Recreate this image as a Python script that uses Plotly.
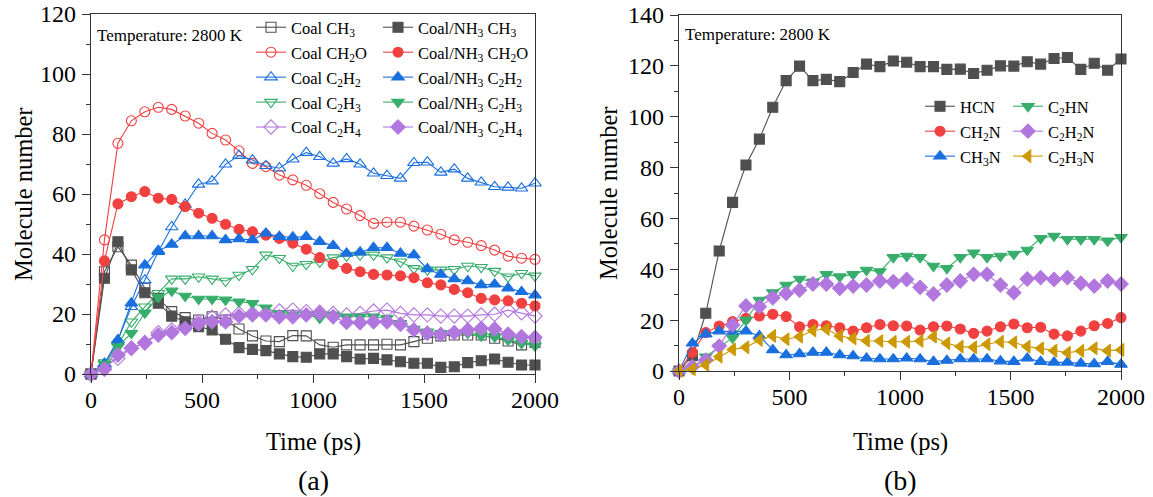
import plotly.graph_objects as go

# ---------------- data ----------------
time = [0, 60.6, 121.2, 181.8, 242.4, 303.0, 363.6, 424.2, 484.8, 545.5, 606.1, 666.7,
        727.3, 787.9, 848.5, 909.1, 969.7, 1030.3, 1090.9, 1151.5, 1212.1, 1272.7,
        1333.3, 1393.9, 1454.5, 1515.2, 1575.8, 1636.4, 1697.0, 1757.6, 1818.2,
        1878.8, 1939.4, 2000]

# (a) Coal vs Coal/NH3
coal_ch3 = [0, 34.1, 42.4, 36.3, 28.6, 25.2, 20.8, 18.8, 18.0, 19.1, 18.0, 15.0, 12.7, 11.0,
            10.8, 12.8, 12.7, 9.7, 8.9, 9.7, 9.7, 9.7, 9.9, 9.7, 10.8, 11.9, 12.7, 13.0, 13.0,
            13.0, 11.9, 11.0, 9.7, 10.5]
nh3_ch3 = [0, 31.9, 44.1, 34.7, 27.1, 23.6, 19.3, 17.4, 15.8, 14.7, 11.6, 8.8, 8.2, 7.8, 6.7,
           5.8, 5.6, 6.7, 6.7, 5.8, 5.0, 5.2, 4.7, 4.1, 3.6, 3.6, 2.2, 2.4, 3.8, 4.4, 5.0, 3.9,
           3.0, 3.0]
coal_ch2o = [0, 44.7, 76.9, 84.4, 87.4, 88.9, 88.2, 86.0, 83.6, 80.2, 78.0, 74.4, 70.2, 69.1,
             66.3, 64.7, 62.9, 60.1, 57.2, 55.0, 52.8, 50.2, 50.6, 50.6, 49.3, 48.0, 46.6,
             44.7, 43.9, 42.8, 41.3, 39.3, 38.6, 38.2]
nh3_ch2o = [0, 37.7, 56.7, 59.1, 60.8, 58.6, 58.2, 55.8, 53.6, 51.9, 49.9, 48.2, 47.4, 46.3,
            45.2, 43.6, 41.6, 38.8, 36.6, 35.2, 34.1, 33.2, 33.0, 32.7, 32.1, 30.4, 29.7,
            28.2, 27.1, 25.2, 24.7, 24.4, 23.6, 22.7]
coal_c2h2 = [0, 3.0, 11.3, 22.4, 31.3, 40.8, 49.0, 56.5, 63.2, 64.3, 69.9, 72.8, 71.3, 69.4,
             68.6, 71.6, 73.8, 72.4, 70.2, 71.7, 69.9, 66.9, 66.1, 65.2, 70.4, 70.6, 67.2,
             68.3, 65.2, 63.9, 62.4, 62.2, 61.9, 63.6]
nh3_c2h2 = [0, 3.5, 11.3, 23.6, 36.3, 41.1, 43.2, 46.0, 46.0, 46.0, 44.7, 45.0, 44.7, 46.9,
            45.8, 45.6, 45.8, 44.1, 42.8, 40.2, 40.6, 42.1, 42.1, 40.2, 39.7, 35.0, 33.2,
            31.7, 31.0, 29.7, 29.9, 28.6, 27.4, 26.3]
coal_c2h3 = [0, 3.8, 9.7, 17.4, 22.4, 26.9, 31.7, 31.7, 32.4, 31.7, 31.0, 33.0, 34.9, 39.7,
             38.6, 36.0, 36.6, 37.4, 38.8, 39.4, 39.7, 39.7, 38.8, 37.4, 35.2, 34.7, 34.7,
             34.9, 36.0, 35.6, 34.3, 32.4, 33.6, 32.7]
nh3_c2h3 = [0, 3.3, 9.1, 13.6, 20.4, 25.6, 27.7, 26.0, 25.0, 25.0, 24.7, 24.1, 23.6, 22.1,
            20.2, 19.7, 19.7, 18.6, 19.7, 19.1, 19.1, 19.1, 18.6, 16.9, 15.0, 14.1, 13.6,
            13.6, 13.6, 12.7, 12.4, 11.3, 10.2, 9.4]
coal_c2h4 = [0, 2.4, 5.2, 8.6, 10.4, 13.8, 14.7, 16.0, 17.4, 18.9, 19.7, 20.2, 20.2, 20.2,
             21.0, 21.3, 20.8, 20.6, 20.2, 19.7, 20.2, 21.0, 21.3, 20.2, 19.7, 19.7, 19.3,
             19.3, 19.3, 19.7, 19.9, 21.3, 20.4, 19.3]
nh3_c2h4 = [0, 1.6, 6.3, 8.6, 10.4, 13.0, 13.8, 15.2, 16.7, 17.4, 17.4, 19.3, 19.7, 19.7,
            19.1, 19.1, 19.7, 20.2, 19.1, 17.2, 17.1, 17.4, 17.4, 16.6, 14.7, 13.6, 13.2,
            13.8, 14.7, 15.2, 15.0, 13.3, 12.4, 12.2]

# (b) nitrogen species
hcn = [0, 6.0, 22.7, 47.2, 66.3, 81.0, 91.2, 103.7, 114.2, 119.9, 114.2, 114.7, 113.8, 117.4,
       120.7, 119.7, 121.9, 121.4, 119.7, 119.7, 118.6, 118.7, 117.0, 118.3, 120.0, 119.9,
       121.6, 120.7, 122.9, 123.3, 118.6, 121.0, 118.3, 122.7]
ch2n = [0, 7.3, 15.1, 17.7, 19.4, 20.7, 21.6, 22.3, 21.4, 17.4, 18.3, 17.8, 17.0, 15.7, 17.0,
        18.3, 17.8, 17.7, 16.1, 17.4, 17.7, 16.5, 14.8, 15.7, 17.4, 18.5, 17.0, 17.2, 14.5,
        13.8, 15.7, 17.8, 18.7, 21.0]
ch3n = [0, 10.9, 14.5, 15.7, 15.5, 15.7, 13.8, 8.3, 6.3, 6.7, 7.3, 7.3, 6.3, 5.9, 5.0, 4.7,
        4.7, 5.0, 4.7, 3.7, 4.1, 4.7, 4.7, 4.7, 3.9, 3.7, 5.0, 3.7, 3.4, 3.4, 3.0, 2.8, 3.7, 2.6]
c2hn = [0, 1.0, 5.6, 9.5, 13.0, 20.0, 27.9, 30.9, 33.8, 36.2, 35.1, 38.0, 37.1, 38.0, 39.7,
        39.1, 44.7, 45.2, 44.7, 41.3, 40.4, 44.7, 46.5, 44.7, 45.2, 46.0, 47.6, 52.2, 53.1,
        51.8, 51.8, 51.8, 51.2, 52.6]
c2h2n = [0, 1.7, 4.3, 9.8, 18.1, 25.6, 25.3, 28.8, 30.5, 31.8, 34.2, 34.2, 32.5, 33.4, 33.8,
         35.4, 35.1, 36.0, 32.9, 30.3, 33.8, 35.4, 38.0, 38.0, 33.8, 30.8, 36.2, 36.7, 36.0,
         36.7, 34.5, 33.4, 35.4, 34.2]
c2h3n = [0, 0.7, 2.4, 5.6, 8.5, 9.3, 12.2, 13.8, 12.5, 13.5, 15.9, 16.5, 13.8, 12.8, 11.9,
         11.8, 11.5, 11.5, 11.8, 13.5, 10.9, 9.6, 9.3, 10.5, 11.5, 11.3, 9.6, 8.9, 8.0, 7.2,
         7.9, 8.9, 8.0, 8.3]

# ---------------- style ----------------
FONT = "Liberation Serif, Times New Roman, serif"
C_GRAY, C_RED, C_BLUE, C_GREEN, C_PURPLE, C_GOLD = (
    "#4f4f4f", "#F14040", "#1A6FDF", "#37AD6B", "#B177DE", "#CC9900")

fig = go.Figure()

def add(x, y, name, color, symbol, xa, ya, legend, group, size=10):
    fig.add_trace(go.Scatter(
        x=x, y=y, name=name, mode="lines+markers", xaxis=xa, yaxis=ya,
        legend=legend, legendgroup=group, cliponaxis=False,
        line=dict(color=color, width=1.1),
        marker=dict(symbol=symbol, size=size, color=color,
                    line=dict(color=color, width=1.1)),
    ))

# panel (a)
add(time, coal_ch3, "Coal CH<sub>3</sub>", C_GRAY, "square-open", "x", "y", "legend", "a1")
add(time, coal_ch2o, "Coal CH<sub>2</sub>O", C_RED, "circle-open", "x", "y", "legend", "a2")
add(time, coal_c2h2, "Coal C<sub>2</sub>H<sub>2</sub>", C_BLUE, "triangle-up-open", "x", "y", "legend", "a3", 11)
add(time, coal_c2h3, "Coal C<sub>2</sub>H<sub>3</sub>", C_GREEN, "triangle-down-open", "x", "y", "legend", "a4", 11)
add(time, coal_c2h4, "Coal C<sub>2</sub>H<sub>4</sub>", C_PURPLE, "diamond-open", "x", "y", "legend", "a5", 11)
add(time, nh3_ch3, "Coal/NH<sub>3</sub> CH<sub>3</sub>", C_GRAY, "square", "x", "y", "legend2", "b1")
add(time, nh3_ch2o, "Coal/NH<sub>3</sub> CH<sub>2</sub>O", C_RED, "circle", "x", "y", "legend2", "b2")
add(time, nh3_c2h2, "Coal/NH<sub>3</sub> C<sub>2</sub>H<sub>2</sub>", C_BLUE, "triangle-up", "x", "y", "legend2", "b3", 11)
add(time, nh3_c2h3, "Coal/NH<sub>3</sub> C<sub>2</sub>H<sub>3</sub>", C_GREEN, "triangle-down", "x", "y", "legend2", "b4", 11)
add(time, nh3_c2h4, "Coal/NH<sub>3</sub> C<sub>2</sub>H<sub>4</sub>", C_PURPLE, "diamond", "x", "y", "legend2", "b5", 11)

# panel (b)
add(time, hcn, "HCN", C_GRAY, "square", "x2", "y2", "legend3", "c1")
add(time, ch2n, "CH<sub>2</sub>N", C_RED, "circle", "x2", "y2", "legend3", "c2")
add(time, ch3n, "CH<sub>3</sub>N", C_BLUE, "triangle-up", "x2", "y2", "legend3", "c3", 11)
add(time, c2hn, "C<sub>2</sub>HN", C_GREEN, "triangle-down", "x2", "y2", "legend4", "d1", 11)
add(time, c2h2n, "C<sub>2</sub>H<sub>2</sub>N", C_PURPLE, "diamond", "x2", "y2", "legend4", "d2", 11)
add(time, c2h3n, "C<sub>2</sub>H<sub>3</sub>N", C_GOLD, "triangle-left", "x2", "y2", "legend4", "d3", 11)

W, H = 1153, 497
def px(v):
    return v / W
def py(v):
    return 1 - v / H

axis_common = dict(
    automargin=False,
    showline=True, mirror=True, linecolor="#333333", linewidth=1.4,
    ticks="outside", ticklen=8, tickwidth=1.2, tickcolor="#333333",
    showgrid=False, zeroline=False,
    tickfont=dict(family=FONT, size=24, color="black"),
    minor=dict(ticks="outside", ticklen=4, tickwidth=1.2, tickcolor="#333333", showgrid=False),
)

def xaxis(domain, anchor):
    return dict(axis_common, domain=domain, anchor=anchor, range=[0, 2000],
                dtick=500, tick0=0, minor_dtick=250, ticklabelstandoff=-4)

def yaxis(domain, anchor, top):
    return dict(axis_common, domain=domain, anchor=anchor, range=[0, top],
                dtick=20, tick0=0, minor_dtick=10, ticklabelstandoff=1)

legend_common = dict(bgcolor="rgba(0,0,0,0)", borderwidth=0,
                     font=dict(family=FONT, size=16.5, color="black"),
                     xanchor="left", yanchor="top", tracegroupgap=0.5, itemwidth=30)

def ann(text, x, y, size, xanchor="center", angle=0):
    return dict(text=text, x=px(x), y=py(y), xref="paper", yref="paper",
                xanchor=xanchor, yanchor="middle", showarrow=False, textangle=angle,
                font=dict(family=FONT, size=size, color="black"))

fig.update_layout(
    template="plotly_white",
    width=W, height=H,
    margin=dict(l=0, r=0, t=0, b=0, autoexpand=False),
    paper_bgcolor="white", plot_bgcolor="white",
    xaxis=xaxis([px(91), px(535)], "y"),
    yaxis=yaxis([py(374), py(14)], "x", 120),
    xaxis2=xaxis([px(679), px(1121)], "y2"),
    yaxis2=yaxis([py(371), py(15)], "x2", 140),
    legend=dict(legend_common, x=px(251), y=py(10)),
    legend2=dict(legend_common, x=px(378), y=py(10)),
    legend3=dict(legend_common, x=px(920), y=py(89)),
    legend4=dict(legend_common, x=px(1008), y=py(89)),
    annotations=[
        ann("Temperature: 2800 K", 95, 35, 17, "left"),
        ann("Temperature: 2800 K", 683, 34, 17, "left"),
        ann("Time (ps)", 313, 442, 24.5),
        ann("Time (ps)", 900, 442, 24.5),
        ann("Molecule number", 23, 194, 24.5, angle=-90),
        ann("Molecule number", 608, 193, 24.5, angle=-90),
        ann("(a)", 313, 480, 28),
        ann("(b)", 900, 480, 28),
    ],
)

fig.write_html("out.html")
